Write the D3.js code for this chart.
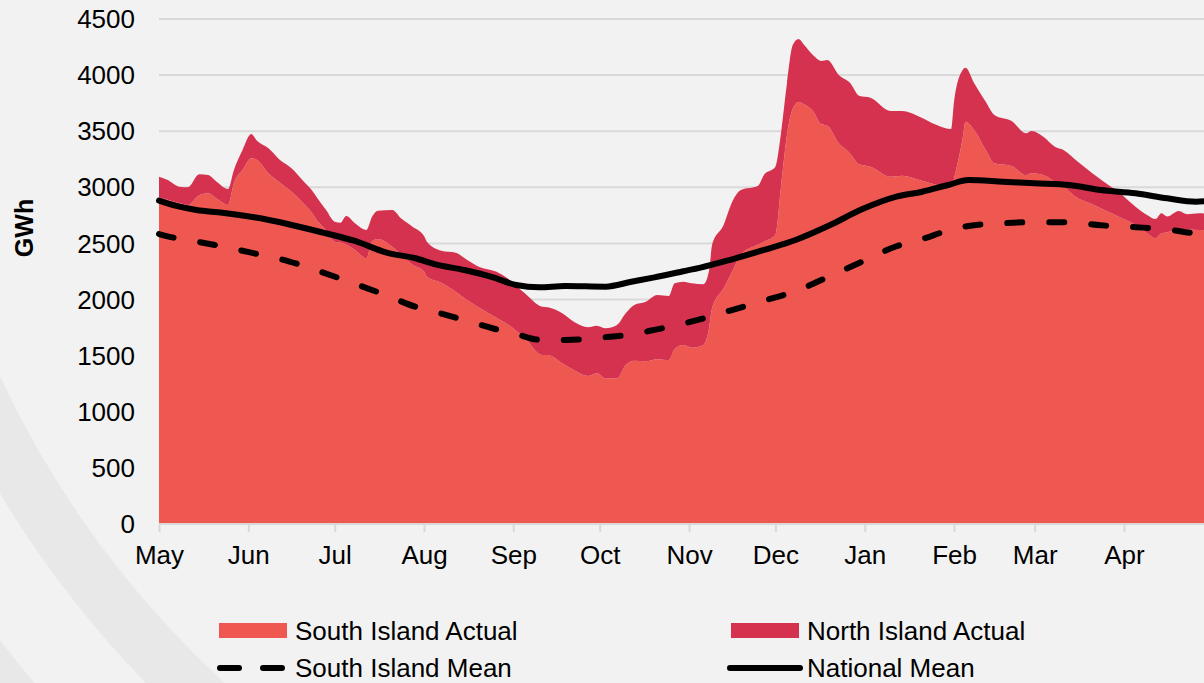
<!DOCTYPE html>
<html>
<head>
<meta charset="utf-8">
<script src="https://cdn.jsdelivr.net/npm/d3@7"></script>
<style>
  html, body { margin: 0; padding: 0; background: #f2f2f2; overflow: hidden; }
  svg { display: block; font-family: "Liberation Sans", Arial, sans-serif; }
</style>
</head>
<body>
<div id="chart"></div>
<script>
// daily storage (GWh)
const dates = [
  "2021-05-01","2021-05-04","2021-05-08","2021-05-11","2021-05-15","2021-05-18","2021-05-21","2021-05-25",
  "2021-05-27","2021-05-30","2021-06-02","2021-06-04","2021-06-08","2021-06-12","2021-06-16","2021-06-20",
  "2021-06-23","2021-06-25","2021-06-28","2021-07-01","2021-07-03","2021-07-05","2021-07-08","2021-07-12",
  "2021-07-14","2021-07-16","2021-07-21","2021-07-24","2021-07-28","2021-08-01","2021-08-02","2021-08-07",
  "2021-08-12","2021-08-16","2021-08-20","2021-08-26","2021-08-30","2021-09-05","2021-09-11","2021-09-13",
  "2021-09-18","2021-09-22","2021-09-27","2021-09-30","2021-10-03","2021-10-07","2021-10-10","2021-10-13",
  "2021-10-17","2021-10-21","2021-10-25","2021-10-27","2021-10-30","2021-11-02","2021-11-06","2021-11-08",
  "2021-11-09","2021-11-13","2021-11-16","2021-11-19","2021-11-25","2021-11-27","2021-12-01","2021-12-03",
  "2021-12-05","2021-12-07","2021-12-09","2021-12-11","2021-12-14","2021-12-17","2021-12-19","2021-12-23",
  "2021-12-27","2021-12-30","2022-01-03","2022-01-10","2022-01-14","2022-01-20","2022-01-26","2022-01-31",
  "2022-02-01","2022-02-04","2022-02-05","2022-02-08","2022-02-12","2022-02-15","2022-02-21","2022-02-26",
  "2022-02-28","2022-03-04","2022-03-08","2022-03-11","2022-03-16","2022-03-21","2022-03-25","2022-03-30",
  "2022-04-05","2022-04-09","2022-04-12","2022-04-14","2022-04-16","2022-04-20","2022-04-23","2022-04-27",
  "2022-05-01"
];

const southActual = [
  2911,2890,2860,2843,2930,2947,2900,2843,3036,3154,3260,3244,3125,3040,2960,2860,
  2775,2700,2620,2516,2508,2490,2442,2368,2520,2540,2470,2400,2310,2250,2204,2150,
  2070,1996,1930,1840,1780,1655,1506,1506,1432,1372,1319,1343,1298,1298,1417,1455,
  1450,1468,1461,1560,1595,1571,1595,1750,1922,2100,2250,2400,2490,2516,2575,3021,
  3466,3700,3760,3740,3680,3560,3549,3392,3300,3205,3184,3095,3104,3065,3021,2990,
  3080,3437,3585,3511,3333,3214,3190,3110,3125,3110,3050,3006,2902,2850,2800,2740,
  2664,2590,2546,2590,2600,2629,2625,2620,2615
];

const northActual = [
  184,175,146,157,186,163,150,142,118,179,215,172,223,204,210,199,
  201,202,178,178,177,255,238,252,219,252,328,324,339,316,312,286,
  348,356,363,409,409,401,430,425,445,431,434,424,446,475,460,497,
  531,573,571,585,564,574,541,513,564,564,622,576,525,594,609,475,
  461,568,562,528,499,566,586,609,627,612,615,585,576,565,535,530,
  683,609,481,416,430,431,401,372,377,341,312,327,326,275,250,221,
  164,164,172,179,139,160,135,149,145
];

// long-run means
const meanDates = [
  "2021-05-01","2021-05-07","2021-05-14","2021-05-23","2021-06-03","2021-06-15","2021-06-27","2021-07-08",
  "2021-07-19","2021-07-29","2021-08-05","2021-08-15","2021-08-25","2021-09-02","2021-09-10","2021-09-19",
  "2021-10-03","2021-10-12","2021-10-20","2021-10-30","2021-11-05","2021-11-15","2021-11-27","2021-12-08",
  "2021-12-20","2021-12-31","2022-01-12","2022-01-21","2022-01-30","2022-02-06","2022-02-18","2022-03-01",
  "2022-03-13","2022-03-24","2022-04-05","2022-04-16","2022-04-26","2022-05-01"
];

const southMean = [
  2584,2546,2516,2473,2412,2341,2240,2140,2037,1936,1888,1817,1742,1692,1642,1640,
  1665,1690,1730,1785,1825,1900,1990,2075,2210,2337,2475,2540,2615,2655,2680,2690,
  2689,2662,2645,2625,2590,2585
];

const nationalMean = [
  2881,2834,2798,2774,2733,2671,2596,2522,2418,2368,2314,2263,2198,2130,2109,2121,
  2115,2159,2198,2252,2285,2352,2442,2531,2664,2804,2917,2961,3021,3065,3050,3036,
  3021,2976,2947,2902,2872,2880
];

const monthLabels = ["May","Jun","Jul","Aug","Sep","Oct","Nov","Dec","Jan","Feb","Mar","Apr"];
const yTicks = [0, 500, 1000, 1500, 2000, 2500, 3000, 3500, 4000, 4500];

const width = 1204, height = 683;
const margin = {top: 19, left: 159, bottom: 524};
const parse = d3.timeParse("%Y-%m-%d");

const x = d3.scaleTime()
  .domain([parse("2021-05-01"), parse("2022-05-01")])
  .range([159, 1210.4]);
const y = d3.scaleLinear().domain([0, 4500]).range([524, 19]);

const colors = {south: "#ef5850", north: "#d4324e"};

const svg = d3.select("#chart").append("svg")
  .attr("width", width)
  .attr("height", height);

svg.append("rect").attr("width", width).attr("height", height).attr("fill", "#f2f2f2");

// decorative arcs in the background
svg.append("circle").attr("cx", 890).attr("cy", -40).attr("r", 1010)
  .attr("fill", "none").attr("stroke", "#e8e8e8").attr("stroke-width", 55);
svg.append("circle").attr("cx", 890).attr("cy", -40).attr("r", 1150)
  .attr("fill", "none").attr("stroke", "#e8e8e8").attr("stroke-width", 60);

// gridlines
svg.append("g")
  .selectAll("line")
  .data(yTicks.slice(1))
  .join("line")
  .attr("x1", 159).attr("x2", width)
  .attr("y1", d => y(d)).attr("y2", d => y(d))
  .attr("stroke", "#d9d9d9").attr("stroke-width", 2);

// stacked areas
const rows = dates.map((d, i) => ({date: parse(d), south: southActual[i], north: northActual[i]}));
const series = d3.stack().keys(["south", "north"])(rows);

const area = d3.area()
  .curve(d3.curveMonotoneX)
  .x(d => x(d.data.date))
  .y0(d => y(d[0]))
  .y1(d => y(d[1]));

svg.append("g")
  .selectAll("path")
  .data(series)
  .join("path")
  .attr("fill", d => colors[d.key])
  .attr("d", area);

// x axis
const monthStarts = d3.timeMonths(parse("2021-05-01"), parse("2022-05-01"));
const xAxis = svg.append("g")
  .attr("transform", "translate(0,524)")
  .call(d3.axisBottom(x).tickValues(monthStarts).tickSize(8).tickPadding(14)
    .tickFormat((d, i) => monthLabels[i]));
xAxis.select(".domain").attr("stroke", "#d9d9d9").attr("stroke-width", 2).attr("d", `M159,0H${width}`);
xAxis.selectAll(".tick line").attr("stroke", "#d9d9d9").attr("stroke-width", 2);
xAxis.selectAll("text").attr("fill", "#000").style("font-size", "26px");

// y axis labels
svg.append("g")
  .selectAll("text")
  .data(yTicks)
  .join("text")
  .attr("x", 135)
  .attr("y", d => y(d))
  .attr("dy", "0.35em")
  .attr("text-anchor", "end")
  .style("font-size", "26px")
  .text(d => d);

svg.append("text")
  .attr("transform", "translate(33,228) rotate(-90)")
  .attr("text-anchor", "middle")
  .style("font-size", "25px")
  .style("font-weight", "bold")
  .text("GWh");

// mean lines
const line = d3.line()
  .curve(d3.curveMonotoneX)
  .x((d, i) => x(parse(meanDates[i])))
  .y(d => y(d));

svg.append("path")
  .attr("d", line(nationalMean))
  .attr("fill", "none").attr("stroke", "#000")
  .attr("stroke-width", 6).attr("stroke-linecap", "round").attr("stroke-linejoin", "round");

svg.append("path")
  .attr("d", line(southMean))
  .attr("fill", "none").attr("stroke", "#000")
  .attr("stroke-width", 6).attr("stroke-linecap", "round")
  .attr("stroke-dasharray", "15,27");

// legend
const legend = [
  {label: "South Island Actual", type: "rect", color: colors.south, x: 219, y: 631},
  {label: "North Island Actual", type: "rect", color: colors.north, x: 731, y: 631},
  {label: "South Island Mean", type: "dash", x: 219, y: 668},
  {label: "National Mean", type: "line", x: 731, y: 668}
];

const lg = svg.append("g").selectAll("g").data(legend).join("g")
  .attr("transform", d => `translate(${d.x},${d.y})`);

lg.filter(d => d.type === "rect").append("rect")
  .attr("x", 0).attr("y", -8).attr("width", 68).attr("height", 15)
  .attr("fill", d => d.color);

lg.filter(d => d.type === "dash").append("line")
  .attr("x1", 1).attr("x2", 66).attr("y1", 0).attr("y2", 0)
  .attr("stroke", "#000").attr("stroke-width", 6).attr("stroke-linecap", "round")
  .attr("stroke-dasharray", "19,24");

lg.filter(d => d.type === "line").append("line")
  .attr("x1", -1).attr("x2", 69).attr("y1", 0).attr("y2", 0)
  .attr("stroke", "#000").attr("stroke-width", 6).attr("stroke-linecap", "round");

lg.append("text")
  .attr("x", 76).attr("dy", "0.35em")
  .style("font-size", "26px")
  .text(d => d.label);
</script>
</body>
</html>
